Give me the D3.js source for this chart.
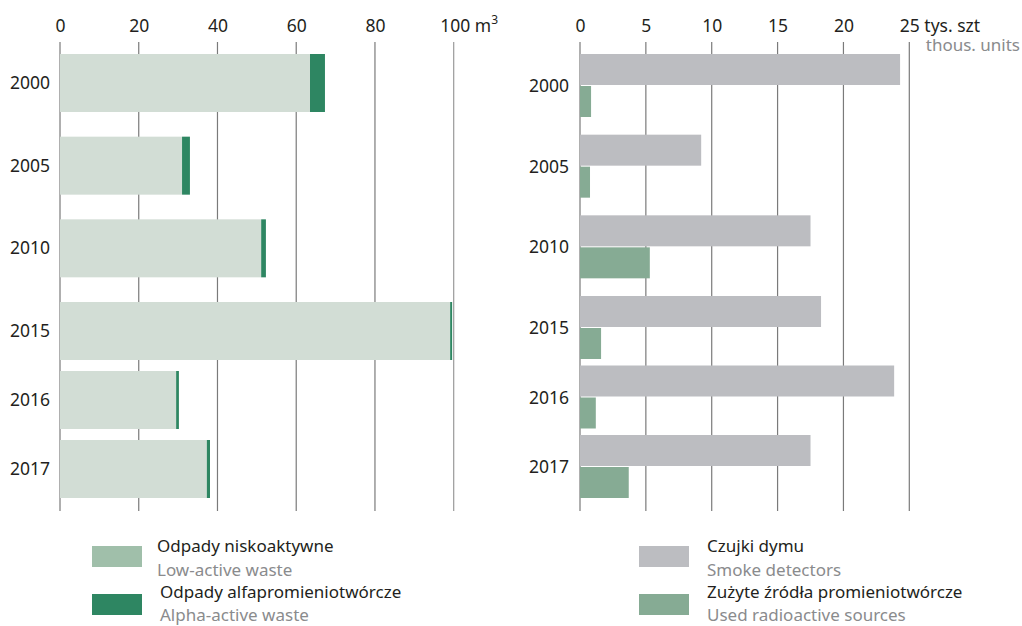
<!DOCTYPE html>
<html>
<head>
<meta charset="utf-8">
<script src="https://cdn.jsdelivr.net/npm/d3@7"></script>
<style>
  html, body { margin: 0; padding: 0; background: #fff; }
  svg { display: block; font-family: "Noto Sans", "Open Sans", sans-serif; }
</style>
</head>
<body>
<svg id="chart" width="1022" height="626"></svg>
<script>
// ---- data ----
const years = [2000, 2005, 2010, 2015, 2016, 2017];
const lowActive = [63.5, 31.0, 51.1, 99.1, 29.5, 37.3];
const alphaActive = [3.8, 2.0, 1.2, 0.5, 0.7, 0.8];
const smokeDetectors = [24.3, 9.2, 17.5, 18.3, 23.85, 17.5];
const usedSources = [0.84, 0.76, 5.3, 1.6, 1.2, 3.7];
const leftTicks = [0, 20, 40, 60, 80, 100];
const rightTicks = [0, 5, 10, 15, 20, 25];

const svg = d3.select("#chart");
const textColor = "#231f20";
const subColor = "#8a8b8d";
const gridColor = "#7a7a7a";
const fs = 17.5;

// ---- left panel ----
const xL = d3.scaleLinear().domain([0, 100]).range([60, 453.7]);
const yL = d3.scaleLinear().domain([2000, 2015, 2017]).range([54, 302, 440]);
const barHL = 58;

const gL = svg.append("g");
gL.selectAll("line.grid").data(leftTicks).join("line")
  .attr("x1", d => xL(d)).attr("x2", d => xL(d))
  .attr("y1", 42).attr("y2", 511)
  .attr("stroke", (d, i) => i === leftTicks.length - 1 ? "#9a9a9a" : gridColor)
  .attr("stroke-width", 1.2);

gL.selectAll("rect.low").data(years).join("rect")
  .attr("x", xL(0)).attr("y", d => yL(d))
  .attr("width", (d, i) => xL(lowActive[i]) - xL(0))
  .attr("height", barHL).attr("fill", "#d2ddd5");
gL.selectAll("rect.alpha").data(years).join("rect")
  .attr("x", (d, i) => xL(lowActive[i])).attr("y", d => yL(d))
  .attr("width", (d, i) => xL(lowActive[i] + alphaActive[i]) - xL(lowActive[i]))
  .attr("height", barHL).attr("fill", "#2e8662");

gL.selectAll("text.year").data(years).join("text")
  .attr("x", 50).attr("y", d => yL(d) + barHL / 2)
  .attr("dy", "0.35em").attr("text-anchor", "end")
  .attr("font-size", fs).attr("fill", textColor).text(d => d);

const axL = gL.append("g").attr("transform", "translate(0,32)")
  .call(d3.axisTop(xL).tickValues(leftTicks).tickSize(0).tickPadding(0));
axL.select(".domain").remove();
axL.selectAll("text").attr("font-size", fs).attr("fill", textColor)
  .attr("font-family", "\"Noto Sans\", sans-serif").attr("dy", 0);
axL.selectAll(".tick").filter(d => d === 100).select("text")
  .attr("text-anchor", "start").attr("x", -14)
  .text(null)
  .call(t => {
    t.append("tspan").text("100 m");
    t.append("tspan").attr("font-size", 12).attr("dy", -8).text("3");
  });

// ---- right panel ----
const xR = d3.scaleLinear().domain([0, 25]).range([580, 909.3]);
const yR = d3.scaleLinear().domain([2000, 2015, 2017]).range([54, 296, 435]);
const barHR = 31;

const gR = svg.append("g");
gR.selectAll("line.grid").data(rightTicks).join("line")
  .attr("x1", d => xR(d)).attr("x2", d => xR(d))
  .attr("y1", 42).attr("y2", 511)
  .attr("stroke", gridColor).attr("stroke-width", 1.2);

gR.selectAll("rect.smoke").data(years).join("rect")
  .attr("x", xR(0)).attr("y", d => yR(d))
  .attr("width", (d, i) => xR(smokeDetectors[i]) - xR(0))
  .attr("height", barHR).attr("fill", "#bcbdc1");
gR.selectAll("rect.src").data(years).join("rect")
  .attr("x", xR(0)).attr("y", d => yR(d) + barHR + 1)
  .attr("width", (d, i) => xR(usedSources[i]) - xR(0))
  .attr("height", barHR).attr("fill", "#86ab94");

gR.selectAll("text.year").data(years).join("text")
  .attr("x", 569).attr("y", d => yR(d) + barHR + 1)
  .attr("dy", "0.35em").attr("text-anchor", "end")
  .attr("font-size", fs).attr("fill", textColor).text(d => d);

const axR = gR.append("g").attr("transform", "translate(0,32)")
  .call(d3.axisTop(xR).tickValues(rightTicks).tickSize(0).tickPadding(0));
axR.select(".domain").remove();
axR.selectAll("text").attr("font-size", fs).attr("fill", textColor)
  .attr("font-family", "\"Noto Sans\", sans-serif").attr("dy", 0);
axR.selectAll(".tick").filter(d => d === 25).select("text")
  .attr("text-anchor", "start").attr("x", -10).text("25 tys. szt");
gR.append("text").attr("x", 1020).attr("y", 51).attr("text-anchor", "end")
  .attr("font-size", 17).attr("fill", subColor).text("thous. units");

// ---- legends ----
function legendItem(x, y, color, pl, en, tx, b1, b2) {
  svg.append("rect").attr("x", x).attr("y", y).attr("width", 50).attr("height", 21).attr("fill", color);
  svg.append("text").attr("x", tx).attr("y", b1).attr("font-size", 17).attr("fill", textColor).text(pl);
  svg.append("text").attr("x", tx).attr("y", b2).attr("font-size", 17).attr("fill", subColor).text(en);
}
legendItem(92, 546, "#a0bfaa", "Odpady niskoaktywne", "Low-active waste", 157, 552, 576);
legendItem(92, 594, "#2e8662", "Odpady alfapromieniotwórcze", "Alpha-active waste", 160, 598, 621);
legendItem(639, 546, "#bcbdc1", "Czujki dymu", "Smoke detectors", 707, 552, 576);
legendItem(639, 594, "#86ab94", "Zużyte źródła promieniotwórcze", "Used radioactive sources", 707, 598, 621);
</script>
</body>
</html>
